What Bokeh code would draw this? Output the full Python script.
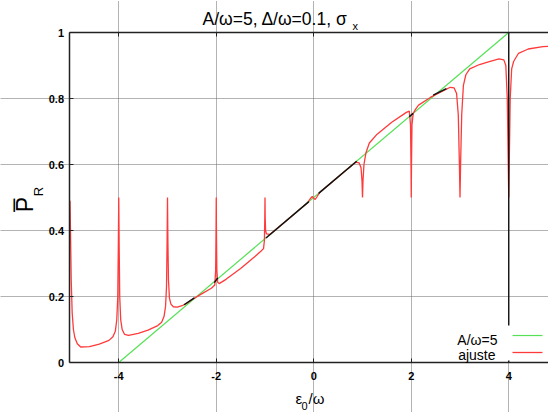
import math
from bokeh.plotting import figure
from bokeh.models import (Range1d, LinearAxis, FixedTicker, CustomJSTickFormatter,
                          Label, BoxAnnotation, Grid)
from bokeh.embed import file_html
from bokeh.resources import INLINE

# ---------------- data ----------------
x_ticks = [-4, -2, 0, 2, 4]
y_ticks = [0, 0.2, 0.4, 0.6, 0.8, 1]
x_min, x_max = -5.0, 4.8154      # visible part of the x axis
y_min, y_max = 0.0, 1.0

# straight line A/w=5
green_x = [-4.0, 4.0]
green_y = [0.0, 1.0]

# fitted curve "ajuste"
red_x = [-5.0, -4.99, -4.975, -4.955, -4.93, -4.9, -4.85, -4.78, -4.6, -4.4,
         -4.2, -4.12, -4.07, -4.04, -4.02, -4.008, -4.0, -3.992, -3.98, -3.96,
         -3.93, -3.88, -3.8, -3.6, -3.4, -3.2, -3.12, -3.07, -3.04, -3.02,
         -3.008, -3.0, -2.992, -2.98, -2.96, -2.93, -2.88, -2.8, -2.7, -2.6,
         -2.5, -2.3, -2.1, -2.03, -2.012, -2.004, -2.0, -1.996, -1.988, -1.97,
         -1.94, -1.8, -1.5, -1.2, -1.08, -1.03, -1.012, -1.004, -1.0, -0.996,
         -0.988, -0.97, -0.9, -0.6, -0.3, -0.12, -0.07, -0.03, 0.0, 0.03,
         0.07, 0.12, 0.4, 0.7, 0.86, 0.93, 0.97, 0.99, 1.0, 1.01,
         1.03, 1.07, 1.14, 1.3, 1.6, 1.9, 1.96, 1.985, 1.995, 2.0,
         2.005, 2.015, 2.04, 2.09, 2.15, 2.4, 2.65, 2.8, 2.88, 2.93,
         2.965, 2.988, 3.0, 3.012, 3.035, 3.07, 3.12, 3.2, 3.4, 3.6,
         3.8, 3.9, 3.94, 3.97, 3.99, 4.0, 4.01, 4.03, 4.06, 4.1,
         4.2, 4.4, 4.7, 5.0]
red_y = [0.49, 0.40, 0.25, 0.15, 0.10, 0.075, 0.057, 0.047, 0.048, 0.056,
         0.067, 0.078, 0.095, 0.13, 0.2, 0.36, 0.5, 0.36, 0.2, 0.13,
         0.1, 0.085, 0.082, 0.088, 0.098, 0.112, 0.122, 0.14, 0.17, 0.23,
         0.37, 0.5, 0.37, 0.25, 0.195, 0.177, 0.169, 0.168, 0.172, 0.18,
         0.19, 0.208, 0.225, 0.235, 0.28, 0.4, 0.5, 0.4, 0.28, 0.243,
         0.239, 0.252, 0.285, 0.322, 0.338, 0.345, 0.37, 0.44, 0.5, 0.44,
         0.4, 0.39, 0.388, 0.425, 0.4625, 0.485, 0.497, 0.503, 0.498, 0.494,
         0.503, 0.515, 0.55, 0.5875, 0.607, 0.605, 0.59, 0.55, 0.5, 0.55,
         0.6, 0.635, 0.665, 0.692, 0.728, 0.758, 0.762, 0.72, 0.6, 0.5,
         0.6, 0.72, 0.755, 0.768, 0.78, 0.804, 0.823, 0.834, 0.832, 0.815,
         0.75, 0.6, 0.5, 0.6, 0.75, 0.84, 0.872, 0.89, 0.903, 0.912,
         0.92, 0.917, 0.9, 0.8, 0.6, 0.5, 0.6, 0.8, 0.89, 0.912,
         0.937, 0.95, 0.957, 0.96]
assert len(red_x) == len(red_y)

# numerical data (black pieces)
black_xs = [[-2.66, -2.45], [-2.04, -1.97], [-0.98, -0.1], [0.1, 0.88],
            [1.96, 2.04], [2.45, 2.72], [4.0, 4.0]]
black_ys = [[0.175, 0.196], [0.242, 0.256], [0.3775, 0.4875], [0.5125, 0.61],
            [0.745, 0.755], [0.81, 0.83], [0.0, 1.0]]

legend_labels = ["A/\u03c9=5", "ajuste"]

# ---------------- figure ----------------
# the frame covers the whole canvas; axes sit at fixed data locations
FONT = "Liberation Sans"
p = figure(width=548, height=412, x_range=Range1d(-6.4256, 4.8154),
           y_range=Range1d(-0.1515, 1.09697),
           output_backend="svg", toolbar_location=None, title=None,
           min_border=0, x_axis_type=None, y_axis_type=None)
p.outline_line_color = None
p.background_fill_color = "white"
p.border_fill_color = "white"

fmt = CustomJSTickFormatter(code="return tick.toString();")


def make_axis(ticks, loc, bounds, standoff, show_labels=True):
    ax = LinearAxis(ticker=FixedTicker(ticks=ticks), formatter=fmt,
                    fixed_location=loc, bounds=bounds,
                    axis_line_width=1.5, axis_line_color="#222222",
                    major_tick_in=4, major_tick_out=0,
                    major_tick_line_color="#222222", minor_tick_line_color=None,
                    major_label_text_font=FONT, major_label_text_font_style="bold",
                    major_label_text_font_size="11px", major_label_text_color="black",
                    major_label_standoff=standoff)
    if not show_labels:
        ax.major_label_text_alpha = 0
    return ax


p.add_layout(make_axis(x_ticks, y_min, (x_min, x_max), 9), "below")
p.add_layout(make_axis(y_ticks, x_min, (y_min, y_max), 6), "left")
p.add_layout(make_axis(x_ticks, y_max, (x_min, x_max), 0, show_labels=False), "above")

p.add_layout(Grid(dimension=0, ticker=FixedTicker(ticks=x_ticks), bounds=(y_min, y_max),
                  grid_line_color="#666666", grid_line_dash="1 1", grid_line_width=1))
p.add_layout(Grid(dimension=1, ticker=FixedTicker(ticks=y_ticks[1:-1]), bounds=(x_min, x_max),
                  grid_line_color="#666666", grid_line_dash="1 1", grid_line_width=1))

p.line(green_x, green_y, line_color="#55e055", line_width=1.2)
p.line(red_x, red_y, line_color="#ff3a3a", line_width=1.3)
p.multi_line(black_xs, black_ys, line_color="#111111", line_width=1.4)

# legend background and entries (gnuplot style: text then sample)
p.add_layout(BoxAnnotation(left=2.805, right=x_max, bottom=0.006, top=0.112,
                           fill_color="white", fill_alpha=1.0, line_color=None))
r1 = p.segment(x0=[4.077], y0=[0.0818], x1=[4.692], y1=[0.0818],
               line_color="#55e055", line_width=1.2)
r2 = p.segment(x0=[4.077], y0=[0.0303], x1=[4.692], y1=[0.0303],
               line_color="#ff3a3a", line_width=1.3)
r1.level = "overlay"
r2.level = "overlay"


def dlabel(x, y, text, size, angle=0.0, align="left", baseline="alphabetic"):
    p.add_layout(Label(x=x, y=y, text=text, text_font=FONT, text_font_size=size,
                       angle=angle, text_align=align, text_baseline=baseline,
                       text_color="black"))


dlabel(3.769, 0.0687, legend_labels[0], "14px", align="right")
dlabel(3.728, 0.0242, legend_labels[1], "14px", align="right")

# title  A/w=5, D/w=0.1, sigma_x
dlabel(-2.282, 1.0394, "A/\u03c9=5, \u0394/\u03c9=0.1, \u03c3", "17.5px")
dlabel(0.795, 1.0182, "x", "11px")
# x axis label  eps_0 /w
dlabel(-0.374, -0.1091, "\u03b5", "15px")
dlabel(-0.2513, -0.1318, "0", "11px")
dlabel(-0.1077, -0.1091, "/\u03c9", "15px")
# y axis label  Pbar_R (centred anchors, rotated)
dlabel(-5.9128, 0.4788, "P\u0305", "23px", angle=math.pi / 2, align="center", baseline="middle")
dlabel(-5.6359, 0.5182, "R", "13px", angle=math.pi / 2, align="center", baseline="middle")

open("out.html", "w").write(file_html(p, INLINE))
